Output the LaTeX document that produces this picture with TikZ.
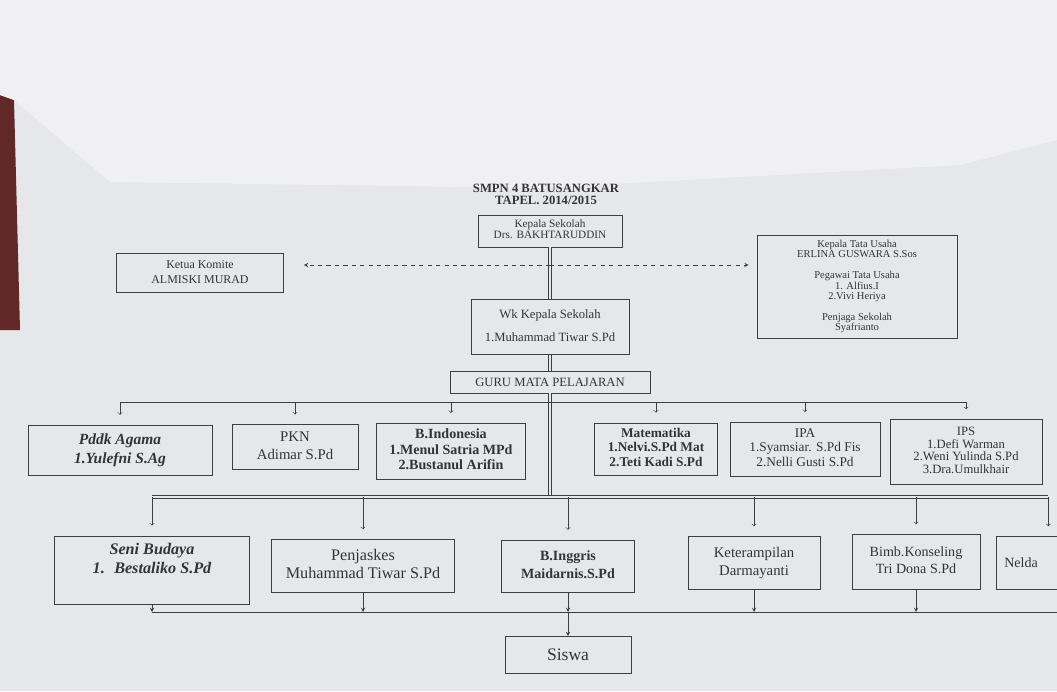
\documentclass[tikz,border=0pt]{standalone}
\usepackage{fontspec}
\setmainfont{Liberation Serif}
\usepackage{tikz}
\usetikzlibrary{arrows,shapes,positioning}
\usepackage{xcolor}
\definecolor{kertas}{RGB}{230,231,234}
\definecolor{kertasatas}{RGB}{240,240,242}
\definecolor{meja}{RGB}{96,40,38}
\definecolor{garis}{RGB}{62,62,64}
\definecolor{tinta}{RGB}{52,52,54}
\tikzstyle{panah} = [thin,->,>=to,color=garis,shorten >=7pt]
\tikzstyle{panahbawah} = [thin,->,>=stealth,color=garis]
\tikzstyle{jabatan} = [rectangle, draw=garis, text=tinta, text centered, thin]
\tikzstyle{garisutama} = [line width=0.7pt, draw=garis, double=kertas, double distance=1pt]

\begin{document}
\begin{tikzpicture}[x=0.025cm, y=-0.025cm]
% latar kertas
\fill[kertas] (0,0) rectangle (1057,691);
\useasboundingbox (0,0) rectangle (1057,691);
\fill[meja] (0,95) -- (14,100) -- (20,330) -- (0,330) -- cycle;
\fill[kertasatas] (0,0) -- (1057,0) -- (1057,140) -- (960,165) -- (540,188) -- (110,182) -- (14,100) -- (0,95) -- cycle;

% Judul
\node (judul) [font=\fontsize{9}{9}\selectfont\bfseries, text=tinta] at (546,196) {
\begin{tabular}{c}
SMPN 4 BATUSANGKAR\\
TAPEL. 2014/2015
\end{tabular}
};

% Kepala Sekolah
\node (kepala) [jabatan, minimum width=3.6cm, minimum height=0.75cm, font=\fontsize{8}{8}\selectfont] at (550,231) {
\begin{tabular}{c}
Kepala Sekolah\\
Drs. BAKHTARUDDIN
\end{tabular}
};

% Ketua Komite
\node (komite) [jabatan, minimum width=4.18cm, minimum height=0.83cm, font=\fontsize{8.5}{10.5}\selectfont] at (200,273) {
\begin{tabular}{c}
Ketua Komite\\
ALMISKI MURAD
\end{tabular}
};

% Tata Usaha
\node (tu) [jabatan, minimum width=5cm, minimum height=2.58cm, font=\fontsize{7.5}{7.4}\selectfont] at (857,287) {
\begin{tabular}{c}
Kepala Tata Usaha\\
ERLINA GUSWARA S.Sos\\
\\
Pegawai Tata Usaha\\
1. Alfius.I\\
2.Vivi Heriya\\
\\
Penjaga Sekolah\\
Syafrianto
\end{tabular}
};

% Wakil Kepala Sekolah
\node (wk) [jabatan, minimum width=3.95cm, minimum height=1.38cm, font=\fontsize{9}{10}\selectfont] at (550,327) {
\begin{tabular}{c}
Wk Kepala Sekolah\\[6pt]
1.Muhammad Tiwar S.Pd
\end{tabular}
};

% Guru Mata Pelajaran
\node (guru) [jabatan, minimum width=5cm, minimum height=0.55cm, font=\fontsize{9}{10}\selectfont] at (550,382) {GURU MATA PELAJARAN};

% baris pertama
\node (agama) [jabatan, minimum width=4.6cm, minimum height=1.25cm, font=\fontsize{11}{13.5}\selectfont\bfseries\itshape] at (120,450) {
\begin{tabular}{c}
Pddk Agama\\
1.Yulefni S.Ag
\end{tabular}
};
\node (pkn) [jabatan, minimum width=3.15cm, minimum height=1.03cm, font=\fontsize{10.5}{12.5}\selectfont] at (295,447) {
\begin{tabular}{c}
PKN\\
Adimar S.Pd
\end{tabular}
};
\node (bindo) [jabatan, minimum width=3.7cm, minimum height=1.3cm, font=\fontsize{10}{11}\selectfont\bfseries] at (451,451) {
\begin{tabular}{c}
B.Indonesia\\
1.Menul Satria MPd\\
2.Bustanul Arifin
\end{tabular}
};
\node (mat) [jabatan, minimum width=2.93cm, minimum height=1.2cm, font=\fontsize{9.5}{10.2}\selectfont\bfseries] at (656,449) {
\begin{tabular}{c}
Matematika\\
1.Nelvi.S.Pd Mat\\
2.Teti Kadi S.Pd
\end{tabular}
};
\node (ipa) [jabatan, minimum width=3.75cm, minimum height=1.2cm, font=\fontsize{9.5}{10.5}\selectfont] at (805,449) {
\begin{tabular}{c}
IPA\\
1.Syamsiar. S.Pd Fis\\
2.Nelli Gusti S.Pd
\end{tabular}
};
\node (ips) [jabatan, minimum width=3.8cm, minimum height=1.63cm, font=\fontsize{9}{9}\selectfont] at (966,452) {
\begin{tabular}{c}
IPS\\
1.Defi Warman\\
2.Weni Yulinda S.Pd\\
3.Dra.Umulkhair
\end{tabular}
};

% baris kedua
\node (seni) [jabatan, minimum width=4.88cm, minimum height=1.6cm, font=\fontsize{11.5}{14}\selectfont\bfseries\itshape] at (152,570) {
\begin{tabular}{c}
Seni Budaya\\
1. \ Bestaliko S.Pd\\
{}
\end{tabular}
};
\node (penjas) [jabatan, minimum width=4.58cm, minimum height=1.33cm, font=\fontsize{11.5}{12.5}\selectfont] at (363,566) {
\begin{tabular}{c}
Penjaskes\\
Muhammad Tiwar S.Pd
\end{tabular}
};
\node (bing) [jabatan, minimum width=3.33cm, minimum height=1.3cm, font=\fontsize{10}{12.5}\selectfont\bfseries] at (568,566) {
\begin{tabular}{c}
B.Inggris\\
Maidarnis.S.Pd
\end{tabular}
};
\node (ket) [jabatan, minimum width=3.3cm, minimum height=1.33cm, font=\fontsize{10.5}{12.5}\selectfont] at (754,563) {
\begin{tabular}{c}
Keterampilan\\
Darmayanti
\end{tabular}
};
\node (bk) [jabatan, minimum width=3.2cm, minimum height=1.38cm, font=\fontsize{10}{12}\selectfont] at (916,562) {
\begin{tabular}{c}
Bimb.Konseling\\
Tri Dona S.Pd
\end{tabular}
};
\node (nelda) [jabatan, anchor=west, minimum width=2.6cm, minimum height=1.33cm, text width=2.2cm, align=left, font=\fontsize{10}{12}\selectfont] at (996,563) {Nelda};

% Siswa
\node (siswa) [jabatan, minimum width=3.15cm, minimum height=0.93cm, font=\fontsize{12.5}{14}\selectfont] at (568,655) {Siswa};

% garis utama
\coordinate (putus) at (550,265);
\coordinate (bus1) at (550,402);
\coordinate (bus2) at (550,497);
\coordinate (bus3) at (568,612);
\coordinate (bus3kanan) at (1070,612);
\draw[garisutama] (kepala.south) -- (wk.north);
\draw[garisutama] (wk.south) -- (guru.north);
\draw[garisutama] (guru.south) -- (bus2);

% garis putus-putus
\draw[panahbawah, dashed, shorten >=0.5cm] (putus) -- (komite.east |- putus);
\draw[panahbawah, dashed, shorten >=0.2cm] (putus) -- (tu.west |- putus);

% cabang ke guru
\draw[semithick, garis] (agama.north |- bus1) -- (ips.north |- bus1);
\foreach \n in {agama,pkn,bindo,mat,ipa,ips}
  \draw[panah] (\n.north |- bus1) -- (\n.north);
\draw[garisutama] (seni.north |- bus2) -- (nelda.north |- bus2);
\foreach \n in {seni,penjas,bing,ket,bk,nelda}
  \draw[panah] (\n.north |- bus2) -- (\n.north);

% ke siswa
\draw[thin, garis] (seni.south |- bus3) -- (bus3kanan);
\foreach \n in {seni,penjas,bing,ket,bk}
  \draw[panahbawah] (\n.south) -- (\n.south |- bus3);
\draw[panahbawah] (siswa.north |- bus3) -- (siswa.north);
\end{tikzpicture}
\end{document}
